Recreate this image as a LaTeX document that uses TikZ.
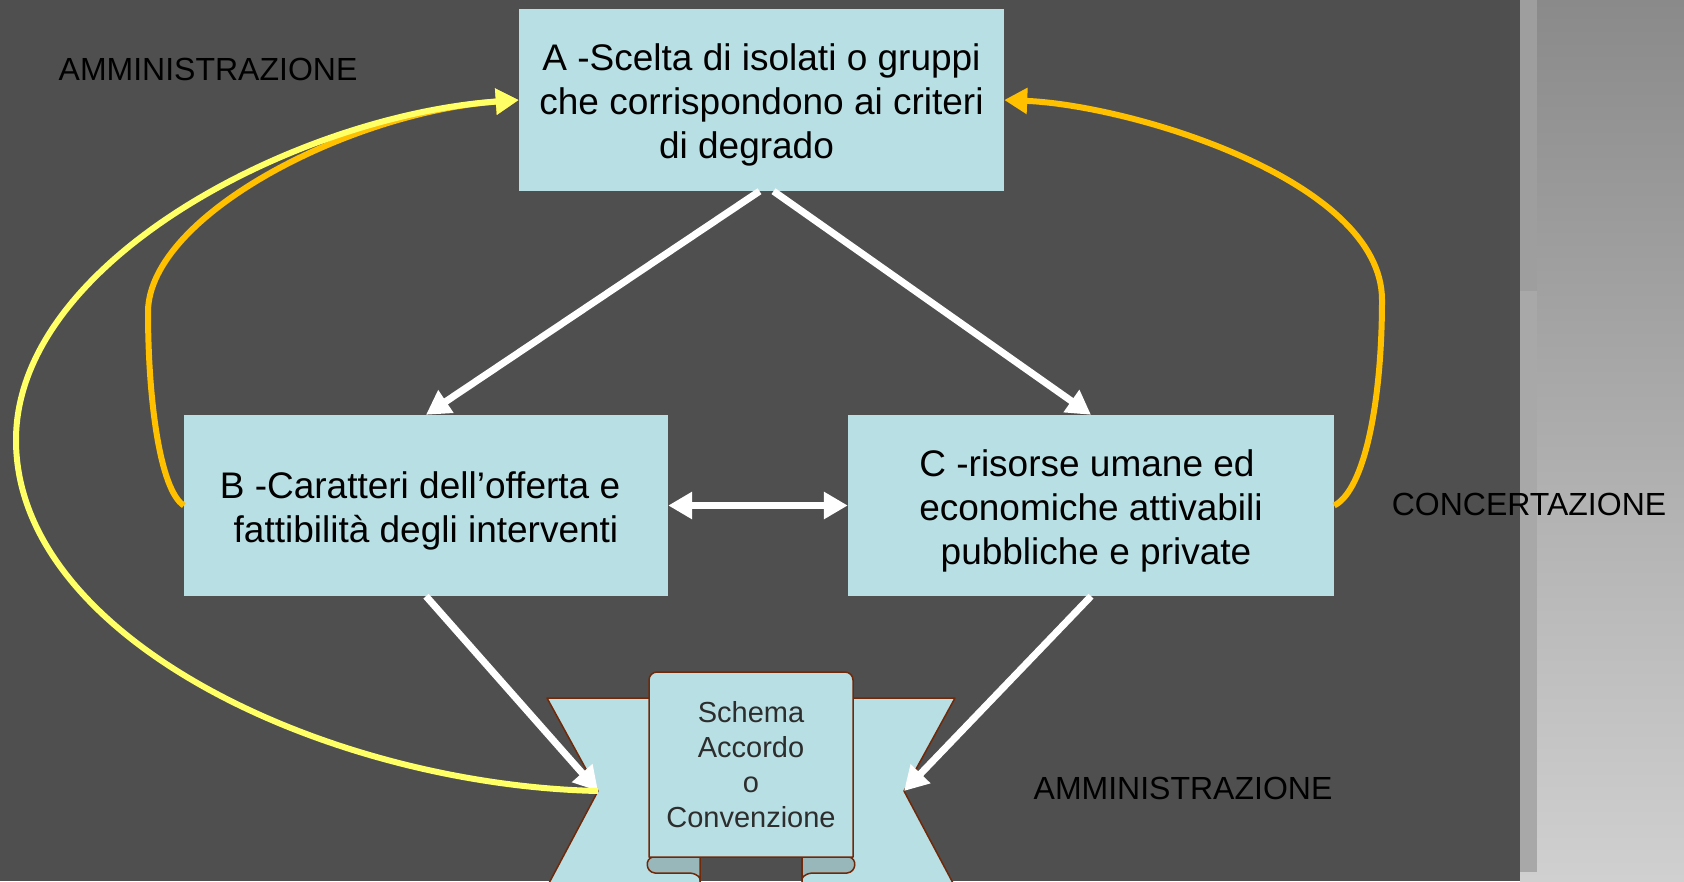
\documentclass[tikz,border=0pt]{standalone}
\usepackage{fontspec}
\setmainfont{Liberation Sans}
\usepackage{tikz}
\usetikzlibrary{arrows.meta}

\definecolor{bgdark}{RGB}{79,79,79}
\definecolor{sidetop}{RGB}{138,138,138}
\definecolor{sidebot}{RGB}{208,208,208}
\definecolor{stripA}{RGB}{158,158,158}
\definecolor{stripB}{RGB}{168,168,168}
\definecolor{boxblue}{RGB}{184,223,227}
\definecolor{curlblue}{RGB}{152,183,186}
\definecolor{ribbonbrown}{RGB}{112,40,8}
\definecolor{lightyellow}{RGB}{255,255,102}
\definecolor{gold}{RGB}{255,192,0}
\definecolor{textgray}{RGB}{45,45,45}

\begin{document}
\begin{tikzpicture}[x=1pt,y=-1pt,
  critbox/.style={fill=boxblue, minimum height=181pt, align=center, inner sep=0pt, font=\fontsize{37}{44}\selectfont},
  flow/.style={white, line width=7pt, -{Triangle[length=24pt,width=26pt]}},
  feedback/.style={line width=6pt, -{Triangle[length=23pt,width=25pt]}},
  ribbon/.style={fill=boxblue, draw=ribbonbrown, line width=1.5pt, line join=round},
  lbl/.style={font=\fontsize{32}{38}\selectfont}]
\useasboundingbox (0,0) rectangle (1684,881);
\clip (0,0) rectangle (1684,881);

% background
\fill[bgdark] (0,0) rectangle (1520,881);
\shade[top color=sidetop, bottom color=sidebot] (1520,0) rectangle (1684,881);
\fill[stripA] (1520,0) rectangle (1537,291); \fill[stripB] (1520,291) rectangle (1537,872);

% the three boxes
\node[critbox, minimum width=485pt, minimum height=182pt] (A) at (761.5,100) {\rule{0pt}{37pt}A -Scelta di isolati o gruppi\\ che corrispondono ai criteri\\ di degrado\hspace*{30pt}};
\node[critbox, minimum width=484pt] (B) at (426,505.5) {\rule{0pt}{37pt}B -Caratteri dell’offerta e\hspace*{12pt}\\ fattibilità degli interventi};
\node[critbox, minimum width=486pt] (C) at (1091,505.5) {\rule{0pt}{37pt}C -risorse umane ed\hspace*{8pt}\\ economiche attivabili\\ \hspace*{10pt}pubbliche e private};

\node[lbl] (amm1) at (208,69) {AMMINISTRAZIONE};
\node[lbl] (conc) at (1529,504) {CONCERTAZIONE};
\node[lbl] (amm2) at (1183,788) {AMMINISTRAZIONE};

% ribbon: wings, curls, panel
\filldraw[ribbon] (547,698) -- (700,698) -- (700,900) -- (540,900) -- (598,791) -- cycle;
\filldraw[ribbon] (955,698) -- (802,698) -- (802,900) -- (962,900) -- (904,791) -- cycle;
\filldraw[ribbon, fill=curlblue] (700,857) -- (653,857) .. controls (645,858) and (645,872) .. (655,873) -- (690,873) .. controls (698,874) and (701,878) .. (700,881) -- cycle;
\filldraw[ribbon, fill=curlblue] (802,857) -- (849,857) .. controls (857,858) and (857,872) .. (847,873) -- (812,873) .. controls (804,874) and (801,878) .. (802,881) -- cycle;
\filldraw[ribbon] (649,857) [rounded corners=8pt] -- (649,672) -- (853,672) [sharp corners] -- (853,857) -- cycle;
\node[font=\fontsize{29}{35}\selectfont, text=textgray, align=center] (S) at (751,765) {Schema\\ Accordo\\ o\\ Convenzione};
\coordinate (notchL) at (598,791); \coordinate (notchR) at (904,791);

% white arrows
\draw[flow] ([xshift=-2pt]A.south) -- (B.north);
\draw[flow] ([xshift=12pt]A.south) -- (C.north);
\draw[flow, {Triangle[length=24pt,width=26pt]}-{Triangle[length=24pt,width=26pt]}] (B.east) -- (C.west);
\draw[flow] (B.south) -- (notchL);
\draw[flow] (C.south) -- (notchR);

% yellow loops back to A
\draw[feedback, gold] (B.west) .. controls (160,490) and (148,400) .. (148,311) .. controls (150,215) and (350,112) .. (A.west);
\draw[feedback, gold] (C.east) .. controls (1365,490) and (1382,400) .. (1382,300) .. controls (1382,180) and (1130,105) .. (A.east);
\draw[feedback, lightyellow] (notchL) .. controls (330,785) and (16,640) .. (16,440) .. controls (16,260) and (300,115) .. (A.west);
\end{tikzpicture}
\end{document}
